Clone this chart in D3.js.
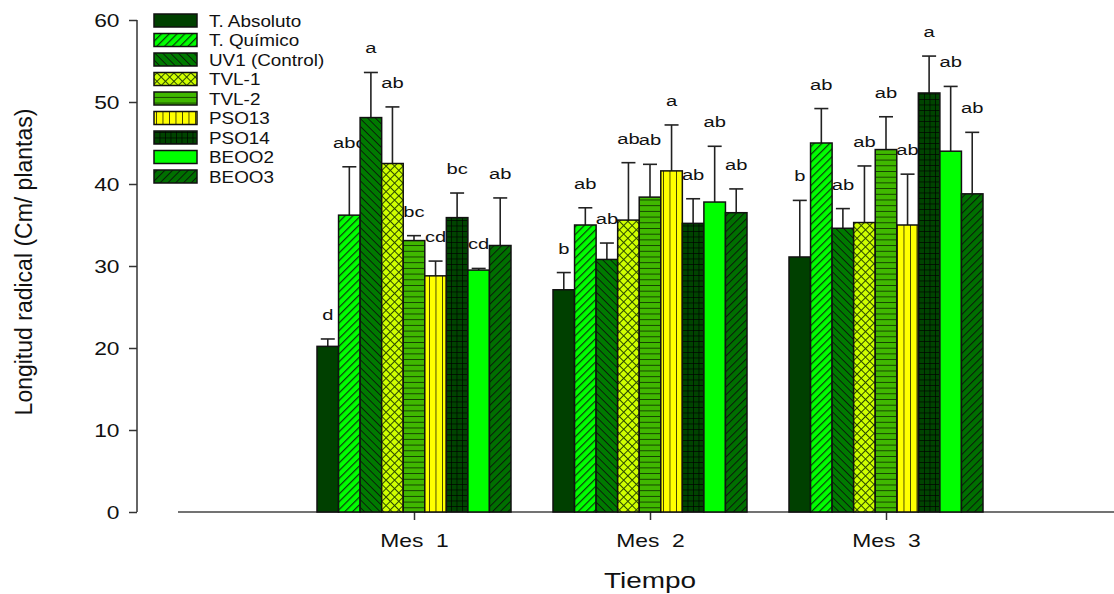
<!DOCTYPE html>
<html>
<head>
<meta charset="utf-8">
<script src="https://cdn.jsdelivr.net/npm/d3@7"></script>
<style>
  body { margin:0; background:#fff; }
  text { font-family: Arial, "Liberation Sans", sans-serif; fill:#111; }
</style>
</head>
<body>
<div class="chart"></div>
<script>
// data
const groups = ['Mes  1', 'Mes  2', 'Mes  3'];
const series = ['T. Absoluto', 'T. Químico', 'UV1 (Control)', 'TVL-1', 'TVL-2', 'PSO13', 'PSO14', 'BEOO2', 'BEOO3'];

const mes1 = [20.2, 36.2, 48.1, 42.5, 33.1, 28.8, 35.9, 29.5, 32.5];
const mes2 = [27.1, 35.0, 30.8, 35.6, 38.4, 41.6, 35.2, 37.8, 36.5];
const mes3 = [31.1, 45.0, 34.6, 35.3, 44.2, 35.0, 51.1, 44.0, 38.8];

const mes1Err = [0.9, 5.9, 5.5, 6.9, 0.6, 1.8, 3.0, 0.2, 5.8];
const mes2Err = [2.1, 2.1, 2.0, 7.0, 4.0, 5.6, 3.0, 6.8, 2.9];
const mes3Err = [6.9, 4.2, 2.4, 6.9, 4.0, 6.2, 4.5, 7.9, 7.5];

const mes1Letters = ['d', 'abc', 'a', 'ab', 'bc', 'cd', 'bc', 'cd', 'ab'];
const mes2Letters = ['b', 'ab', 'ab', 'ab', 'ab', 'a', 'ab', 'ab', 'ab'];
const mes3Letters = ['b', 'ab', 'ab', 'ab', 'ab', 'ab', 'a', 'ab', 'ab'];

const yTicks = [0, 10, 20, 30, 40, 50, 60];

const values = [mes1, mes2, mes3];
const errors = [mes1Err, mes2Err, mes3Err];
const letters = [mes1Letters, mes2Letters, mes3Letters];

const W = 1114, H = 594;
const svg = d3.select('.chart')
    .append('svg')
    .attr('width', W)
    .attr('height', H);

// the original figure has its text stretched sideways
function stretch(sel, k) {
    sel.each(function() {
        const t = d3.select(this);
        const x = +t.attr('x') || 0, y = +t.attr('y') || 0;
        t.attr('x', 0).attr('y', 0)
            .attr('transform', `translate(${x},${y}) scale(${k},1)`);
    });
}

// fill patterns, one per series
const defs = svg.append('defs');
function stripes(id, base, line, angle, gap, lw) {
    const p = defs.append('pattern')
        .attr('id', id)
        .attr('patternUnits', 'userSpaceOnUse')
        .attr('width', gap).attr('height', gap)
        .attr('patternTransform', `rotate(${angle})`);
    p.append('rect').attr('width', gap).attr('height', gap).attr('fill', base);
    p.append('line').attr('x1', 0).attr('y1', 0).attr('x2', 0).attr('y2', gap)
        .attr('stroke', line).attr('stroke-width', lw);
}
stripes('p1', '#00ff00', '#0a3a0a', 45, 5.5, 2.4);   // T. Químico
stripes('p2', '#007a00', '#0a1a0a', -45, 5.5, 1.8);  // UV1
stripes('p4', '#40b800', '#0b2a00', 90, 5.7, 1.6);   // TVL-2
stripes('p5', '#ffff00', '#222200', 0, 6.5, 1.6);    // PSO13
stripes('p8', '#007000', '#0a1a0a', 45, 5.5, 2);     // BEOO3

// crosshatch TVL-1
const p3 = defs.append('pattern').attr('id', 'p3')
    .attr('patternUnits', 'userSpaceOnUse').attr('width', 6).attr('height', 6)
    .attr('patternTransform', 'rotate(45)');
p3.append('rect').attr('width', 6).attr('height', 6).attr('fill', '#d0ff00');
p3.append('line').attr('x1', 0).attr('y1', 0).attr('x2', 0).attr('y2', 6).attr('stroke', '#2a4a00').attr('stroke-width', 2);
p3.append('line').attr('x1', 0).attr('y1', 0).attr('x2', 6).attr('y2', 0).attr('stroke', '#2a4a00').attr('stroke-width', 2);

// grid PSO14
const p6 = defs.append('pattern').attr('id', 'p6')
    .attr('patternUnits', 'userSpaceOnUse').attr('width', 5.5).attr('height', 5.5);
p6.append('rect').attr('width', 5.5).attr('height', 5.5).attr('fill', '#004400');
p6.append('line').attr('x1', 0).attr('y1', 0).attr('x2', 0).attr('y2', 5.5).attr('stroke', '#000').attr('stroke-width', 1.3);
p6.append('line').attr('x1', 0).attr('y1', 0).attr('x2', 5.5).attr('y2', 0).attr('stroke', '#000').attr('stroke-width', 1.3);

const fills = ['#004000', 'url(#p1)', 'url(#p2)', 'url(#p3)', 'url(#p4)', 'url(#p5)', 'url(#p6)', '#00ff00', 'url(#p8)'];

// scales
const yScale = d3.scaleLinear().domain([0, 60]).range([512, 20]);
const x0 = d3.scaleLinear().domain([0, groups.length + 1]).range([178, 1122]);
const x1 = d3.scaleBand().domain(series).range([-97, 97]);

// y axis
const yAxis = d3.axisLeft(yScale).tickValues(yTicks).tickSize(8).tickPadding(9.5);
const gy = svg.append('g').attr('class', 'y-axis')
    .attr('transform', 'translate(137,0)')
    .call(yAxis);
gy.select('.domain').attr('stroke', '#333').attr('stroke-width', 1.5).attr('d', 'M0,20V512');
gy.selectAll('.tick line').attr('stroke', '#333').attr('stroke-width', 1.5);
gy.selectAll('.tick text').attr('font-size', 19).attr('fill', '#111').call(stretch, 1.2);

// x axis
const xAxis = d3.axisBottom(x0).tickValues([1, 2, 3])
    .tickFormat(d => groups[d - 1]).tickSize(8).tickPadding(14);
const gx = svg.append('g').attr('class', 'x-axis')
    .attr('transform', 'translate(0,512)')
    .call(xAxis);
gx.select('.domain').attr('stroke', '#444').attr('stroke-width', 1.5).attr('d', 'M178,0H1114');
gx.selectAll('.tick line').attr('stroke', '#333').attr('stroke-width', 1.5);
gx.selectAll('.tick text').attr('font-size', 18).attr('fill', '#111')
    .style('white-space', 'pre').call(stretch, 1.27);

// bars, error bars, letters
groups.forEach((g, gi) => {
    const cx = x0(gi + 1);
    series.forEach((s, si) => {
        const v = values[gi][si], e = errors[gi][si];
        const bx = cx + x1(s);
        const bw = x1.bandwidth();
        const mid = bx + bw / 2;
        svg.append('line')
            .attr('x1', mid).attr('x2', mid)
            .attr('y1', yScale(v)).attr('y2', yScale(v + e))
            .attr('stroke', '#222').attr('stroke-width', 1.6);
        svg.append('line')
            .attr('x1', mid - 7).attr('x2', mid + 7)
            .attr('y1', yScale(v + e)).attr('y2', yScale(v + e))
            .attr('stroke', '#222').attr('stroke-width', 1.6);
        svg.append('rect')
            .attr('x', bx).attr('width', bw)
            .attr('y', yScale(v)).attr('height', yScale(0) - yScale(v))
            .attr('fill', fills[si])
            .attr('stroke', '#111').attr('stroke-width', 1.5);
        svg.append('text')
            .attr('x', mid).attr('y', yScale(v + e) - 19)
            .attr('text-anchor', 'middle')
            .attr('font-size', 15.5)
            .text(letters[gi][si])
            .call(stretch, 1.3);
    });
});

// legend
const legend = svg.append('g').attr('class', 'legend');
series.forEach((s, i) => {
    const y = 14 + i * 19.5;
    legend.append('rect')
        .attr('x', 154).attr('y', y).attr('width', 43).attr('height', 13)
        .attr('fill', fills[i]).attr('stroke', '#111').attr('stroke-width', 1.5);
    legend.append('text')
        .attr('x', 209).attr('y', y + 12.5)
        .attr('font-size', 16)
        .text(s)
        .call(stretch, 1.18);
});

// axis titles
svg.append('text')
    .attr('transform', 'translate(32,262) rotate(-90)')
    .attr('text-anchor', 'middle')
    .attr('font-size', 23)
    .text('Longitud radical (Cm/ plantas)');

svg.append('text')
    .attr('x', 650).attr('y', 588)
    .attr('text-anchor', 'middle')
    .attr('font-size', 21.5)
    .text('Tiempo')
    .call(stretch, 1.3);
</script>
</body>
</html>
